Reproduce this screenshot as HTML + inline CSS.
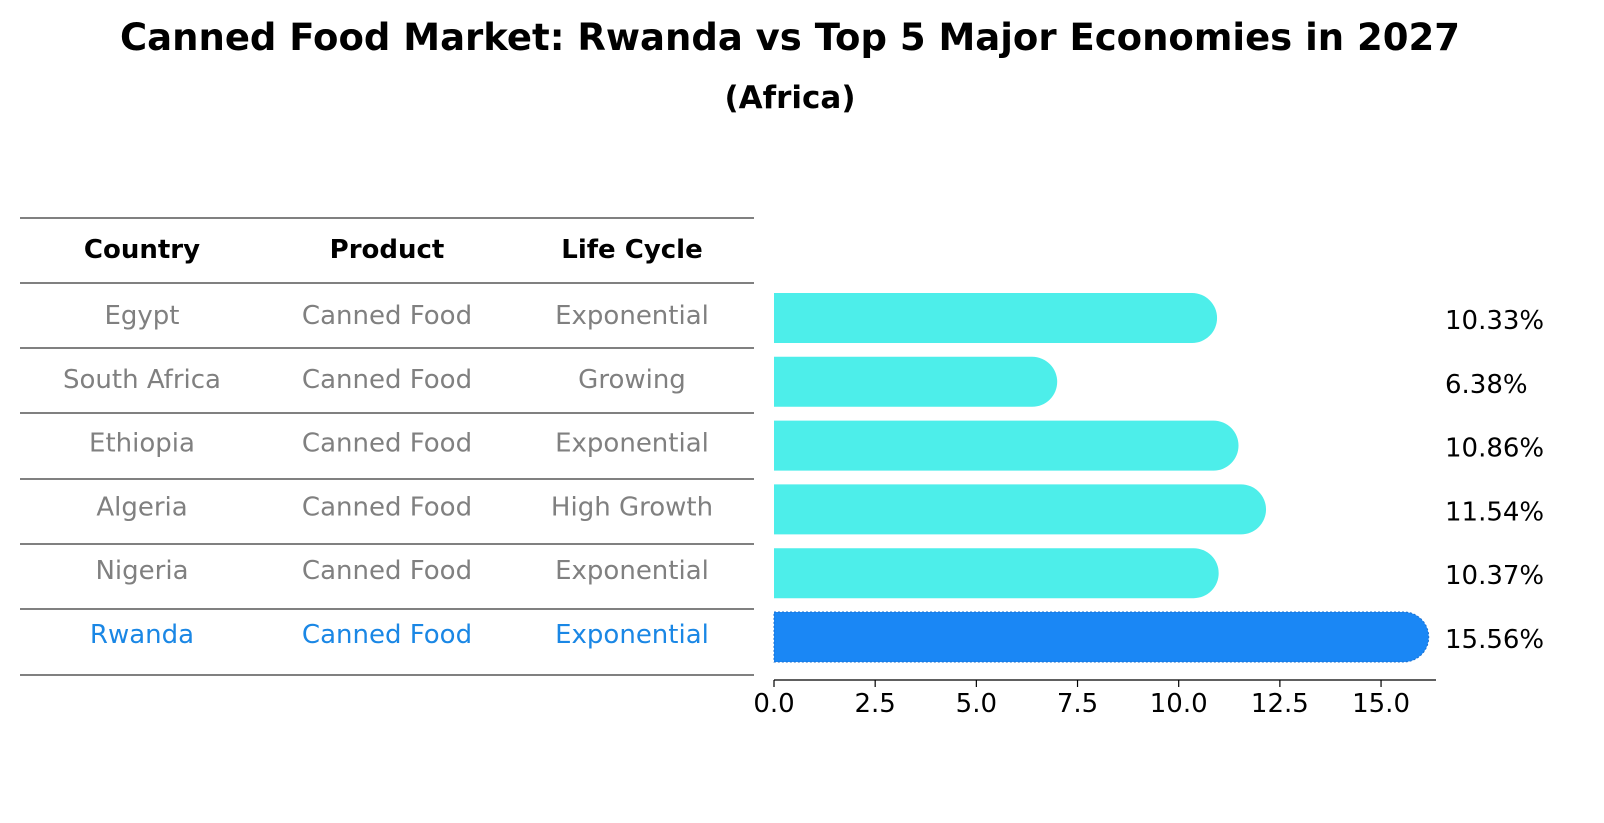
<!DOCTYPE html>
<html><head><meta charset="utf-8">
<style>
html,body{margin:0;padding:0;background:#fff;overflow:hidden;width:1604px;height:823px;font-family:"Liberation Sans","DejaVu Sans",sans-serif;}
svg{display:block;}
svg text{font-family:"DejaVu Sans","Liberation Sans",sans-serif;}
</style></head>
<body>
<svg id="chart" width="1604" height="823" viewBox="0 0 1604 823" xmlns="http://www.w3.org/2000/svg">
<text x="790" y="50" text-anchor="middle" font-size="37" font-weight="bold">Canned Food Market: Rwanda vs Top 5 Major Economies in 2027</text>
<text x="790" y="108" text-anchor="middle" font-size="31" font-weight="bold">(Africa)</text>
<g id="table"></g>
<g id="bars"></g>
<g id="axis"></g>
</svg>
<script>
const countries=["Egypt","South Africa","Ethiopia","Algeria","Nigeria","Rwanda"];
const products=["Canned Food","Canned Food","Canned Food","Canned Food","Canned Food","Canned Food"];
const lifeCycles=["Exponential","Growing","Exponential","High Growth","Exponential","Exponential"];
const values=[10.33,6.38,10.86,11.54,10.37,15.56];
const tickLabels=["0.0","2.5","5.0","7.5","10.0","12.5","15.0"];
const tickValues=[0,2.5,5,7.5,10,12.5,15];

const NS="http://www.w3.org/2000/svg";
function mk(tag,attrs,parent){const e=document.createElementNS(NS,tag);for(const k in attrs)e.setAttribute(k,attrs[k]);parent.appendChild(e);return e;}
const x0=774,pxPerUnit=40.47;
const xScale=v=>x0+v*pxPerUnit;
const rowY=i=>318+i*63.8;
const barH=50;

const tbl=document.getElementById('table');
const lineYs=[218,283,348,413,479,544,609,675];
lineYs.forEach((y)=>{const l=mk('line',{x1:20,x2:754,y1:y,y2:y,stroke:'#000','stroke-width':1},tbl);

});
const colX=[142,387,632];
["Country","Product","Life Cycle"].forEach((h,j)=>{const t=mk('text',{x:colX[j],y:258,'text-anchor':'middle','font-size':26,'font-weight':'bold'},tbl);t.textContent=h;

});
countries.forEach((c,i)=>{
  const col=i===countries.length-1?'#1a87e5':'#808080';
  [c,products[i],lifeCycles[i]].forEach((v,j)=>{
    const t=mk('text',{x:colX[j],y:rowY(i)+6,'text-anchor':'middle','font-size':26,fill:col},tbl);t.textContent=v;
    
    
  });
});

const bars=document.getElementById('bars');
values.forEach((v,i)=>{
  const isR=i===values.length-1;
  const col=isR?'#1a87f5':'#4deeea';
  const xe=xScale(v),yc=rowY(i),r=barH/2;
  const p=mk('path',{d:`M${x0},${yc-r} L${xe},${yc-r} A${r},${r} 0 0 1 ${xe},${yc+r} L${x0},${yc+r} Z`,fill:col},bars);
  if(isR){p.setAttribute('stroke','#1a6fd0');p.setAttribute('stroke-dasharray','2 2');p.setAttribute('stroke-width','1');}
  
  
  const t=mk('text',{x:1445,y:yc+11,'font-size':26},bars);t.textContent=v.toFixed(2)+'%';
  
  
});

const ax=document.getElementById('axis');
const al=mk('line',{x1:774,x2:1436,y1:680,y2:680,stroke:'#000','stroke-width':1.2},ax);


tickValues.forEach((tv,i)=>{
  const x=xScale(tv);
  const tk=mk('line',{x1:x,x2:x,y1:680,y2:687,stroke:'#000','stroke-width':1.2},ax);
  
  
  const t=mk('text',{x:x,y:712,'text-anchor':'middle','font-size':26},ax);t.textContent=tickLabels[i];
  
  
});
</script>
</body></html>
